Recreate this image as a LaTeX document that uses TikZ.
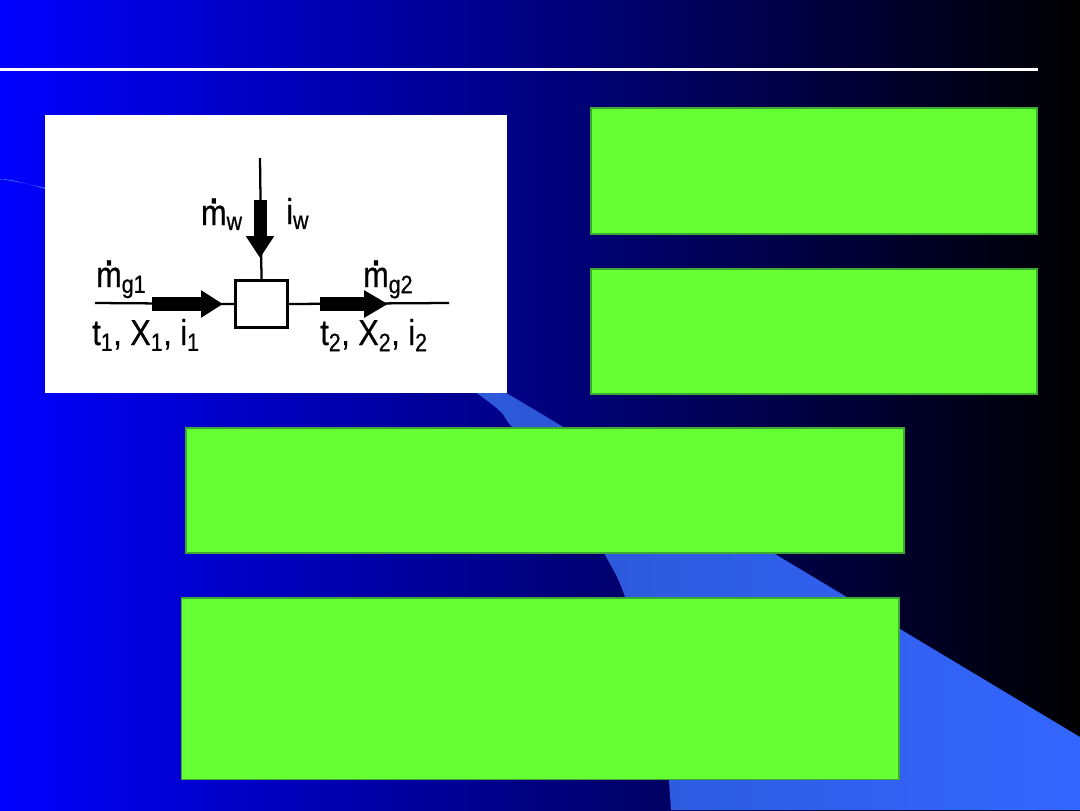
\documentclass[tikz,border=0pt]{standalone}
\usepackage{fontspec}
\newfontfamily\labfont[FakeStretch=0.85,FakeBold=0.6]{Liberation Sans}
\usetikzlibrary{arrows.meta}
\definecolor{slgreen}{RGB}{102,255,51}
\definecolor{slgreenedge}{RGB}{60,170,50}
\definecolor{bandA}{RGB}{51,102,255}
\definecolor{bandB}{RGB}{44,88,215}
\newcommand\mdt{\ooalign{m\cr\hidewidth\raisebox{0.6em}{\scalebox{1.3}{.}}\hidewidth\cr}}
\begin{document}
\begin{tikzpicture}[x=0.75pt,y=-0.75pt,
  greenbox/.style={fill=slgreen,draw=slgreenedge,line width=0.8pt},
  thinline/.style={draw=black,line width=1.7pt},
  fatarrow/.style={draw=black,line width=#1},
  lab/.style={font=\labfont\fontsize{27}{30}\selectfont,inner sep=0pt,text=black}]
\useasboundingbox (0,0) rectangle (1080,810);
% background
\shade[left color=blue,right color=black] (0,0) rectangle (1080,810);
% swoosh band
\shade[left color=bandA,right color=bandA,middle color=bandB]
  (0,179) .. controls (200,211) and (400,329) .. (565,428) -- (1080,737) -- (1080,810) -- (671,810)
  -- plot[smooth,tension=0.6] coordinates {(669,780) (652,690) (625,597) (604,553) (565,485) (513,428) (478,394) (300,275) (45,189) (0,181)} -- cycle;
% title rule
\draw[white,line width=2.25pt] (0,69) -- (1038,69);
% white picture panel
\fill[white] (45,115) rectangle (507,393);
% green boxes
\filldraw[greenbox] (591,108) rectangle (1037,234);
\filldraw[greenbox] (591,269) rectangle (1037,394);
\filldraw[greenbox] (186,428) rectangle (904,553);
\filldraw[greenbox] (181.5,598) rectangle (899,779.5);
% diagram
\node[draw=black,line width=2.4pt,minimum width=39pt,minimum height=35.25pt,inner sep=0pt,fill=white] (cell) at (261.5,304) {};
\coordinate (wtop) at (260,158);
\coordinate (gin) at (95,303);
\coordinate (gout) at (449,303);
\coordinate (wa1) at (260,200);
\coordinate (wa2) at (260,258);
\coordinate (la1) at (152,304);
\coordinate (la2) at (223,304);
\coordinate (ra1) at (320,304);
\coordinate (ra2) at (388,304);
\draw[thinline] (wtop) -- (cell.north);
\draw[thinline] (gin) -- (cell.west);
\draw[thinline] (cell.east) -- (gout);
\draw[fatarrow=9.75pt,-{Triangle[length=16.5pt,width=20.25pt]}] (wa1) -- (wa2);
\draw[fatarrow=11pt,-{Triangle[length=16.5pt,width=19.5pt]}] (la1) -- (la2);
\draw[fatarrow=10.5pt,-{Triangle[length=18pt,width=19.5pt]}] (ra1) -- (ra2);
\node[lab,anchor=base east] (mw) at (243,225) {\mdt\textsubscript{w}};
\node[lab,anchor=base west] (iw) at (286,224) {i\textsubscript{w}};
\node[lab,anchor=base west] (mg1) at (96,287) {\mdt\textsubscript{g1}};
\node[lab,anchor=base west] (st1) at (92,345) {t\textsubscript{1}, X\textsubscript{1}, i\textsubscript{1}};
\node[lab,anchor=base west] (mg2) at (363,287) {\mdt\textsubscript{g2}};
\node[lab,anchor=base west] (st2) at (320,345) {t\textsubscript{2}, X\textsubscript{2}, i\textsubscript{2}};
\end{tikzpicture}
\end{document}
